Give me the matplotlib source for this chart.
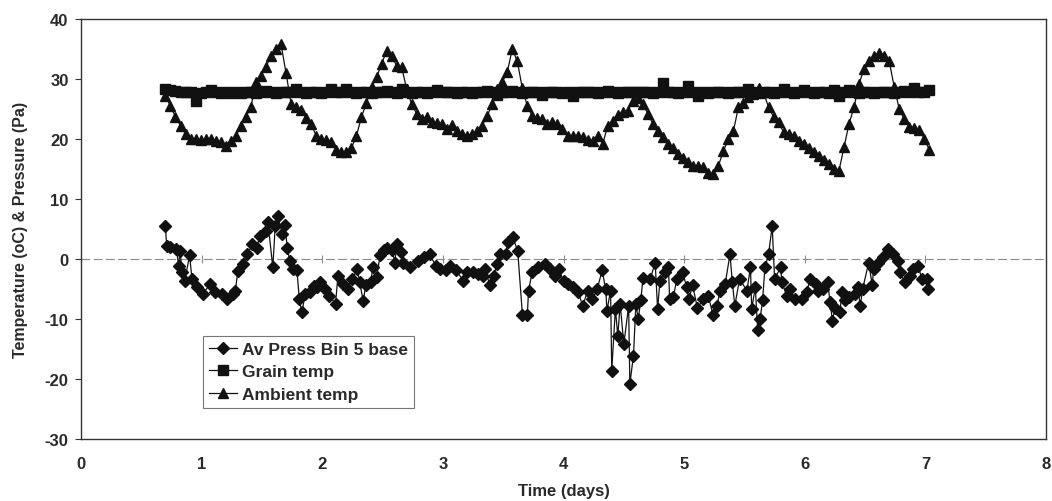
import numpy as np
import matplotlib.pyplot as plt

plt.rcParams['font.family'] = ['Liberation Sans', 'DejaVu Sans']
plt.rcParams['axes.unicode_minus'] = False

# Hourly temperature readings, starting at day 0.70
t0 = 0.70
hours = 153

grain_temp = [
    28.3, 28.2, 28.0, 27.8, 27.9, 27.8, 26.3, 27.7, 27.8, 28.2, 27.8, 27.6,
    27.8, 27.7, 27.8, 27.6, 27.8, 27.8, 27.7, 27.9, 28.0, 27.8, 27.6, 27.8,
    27.9, 27.8, 28.4, 27.8, 27.7, 27.8, 27.8, 27.6, 27.8, 28.3, 27.8, 27.8,
    28.3, 27.8, 27.7, 27.8, 27.8, 27.6, 27.8, 27.8, 28.0, 27.8, 27.7, 28.4,
    27.8, 27.7, 27.8, 27.8, 27.7, 27.8, 28.1, 27.8, 27.8, 27.9, 27.7, 27.8,
    27.8, 27.7, 27.8, 27.8, 28.0, 27.8, 27.3, 27.8, 27.8, 28.0, 27.8, 27.7,
    27.8, 27.8, 27.9, 27.3, 27.8, 27.8, 27.9, 27.7, 27.8, 27.2, 27.8, 27.8,
    27.9, 27.8, 27.7, 27.8, 28.0, 27.8, 27.7, 27.8, 27.8, 27.9, 27.8, 27.8,
    27.8, 27.7, 27.8, 29.3, 27.8, 27.8, 27.7, 27.8, 28.8, 27.8, 27.2, 27.8,
    27.7, 27.8, 27.8, 27.9, 27.7, 27.8, 27.8, 27.9, 28.3, 27.8, 27.7, 27.8,
    27.8, 27.7, 27.8, 28.3, 27.8, 27.7, 27.8, 28.2, 27.8, 27.7, 27.8, 27.8,
    27.7, 28.2, 27.2, 27.8, 28.2, 27.8, 27.7, 27.8, 27.8, 27.7, 27.9, 27.8,
    27.8, 27.7, 27.8, 28.0, 27.8, 28.5, 27.8, 27.9, 28.2,
]

ambient_temp = [
    27.2, 25.5, 23.7, 22.2, 20.8, 20.0, 20.0, 19.8, 20.0, 20.0, 19.6, 19.5,
    18.9, 19.6, 20.5, 22.2, 23.7, 25.3, 29.5, 30.5, 32.0, 33.9, 35.0, 35.8,
    31.0, 25.8, 25.3, 24.8, 23.5, 22.5, 20.5, 20.0, 19.8, 19.5, 18.2, 17.8,
    17.9, 18.5, 20.5, 23.7, 26.0, 28.7, 30.3, 32.5, 34.7, 33.9, 32.2, 32.0,
    28.3, 25.8, 24.2, 23.3, 23.7, 22.8, 22.7, 22.5, 21.7, 22.3, 21.3, 20.8,
    20.5, 20.8, 21.3, 22.2, 23.8, 25.8, 28.3, 29.5, 31.1, 35.0, 33.0, 28.5,
    25.5, 23.8, 23.5, 23.3, 22.5, 22.8, 22.5, 21.7, 20.5, 20.5, 20.5, 20.3,
    19.8, 19.7, 20.5, 19.2, 22.2, 23.0, 24.0, 24.5, 24.7, 26.3, 26.8, 25.8,
    24.2, 22.5, 21.3, 20.3, 19.2, 18.5, 17.5, 16.8, 16.1, 15.5, 15.5, 15.3,
    14.4, 14.2, 15.5, 18.0, 20.0, 21.3, 25.3, 26.0, 27.0, 27.5, 28.5, 27.8,
    25.3, 23.7, 22.8, 21.1, 20.8, 20.5, 19.7, 19.2, 18.5, 17.8, 17.2, 16.5,
    15.8, 15.0, 14.7, 18.6, 22.5, 25.3, 29.2, 31.7, 33.0, 33.9, 34.4, 33.9,
    33.0, 28.7, 25.0, 23.3, 22.0, 21.8, 21.5, 20.0, 18.2,
]

# Pressure logger: time (days) and average pressure (Pa)
press_t = [
    0.70, 0.71, 0.74, 0.79, 0.81, 0.82, 0.84, 0.86, 0.90, 0.92, 0.96, 1.01,
    1.07, 1.11, 1.17, 1.21, 1.26, 1.28, 1.30, 1.34, 1.38, 1.42, 1.46, 1.48,
    1.53, 1.55, 1.59, 1.61, 1.63, 1.67, 1.69, 1.71, 1.73, 1.76, 1.79, 1.81,
    1.83, 1.86, 1.90, 1.93, 1.96, 1.98, 2.02, 2.06, 2.11, 2.13, 2.17, 2.21,
    2.25, 2.29, 2.31, 2.34, 2.36, 2.40, 2.42, 2.45, 2.48, 2.51, 2.54, 2.58,
    2.60, 2.62, 2.65, 2.67, 2.73, 2.79, 2.84, 2.89, 2.94, 2.98, 3.03, 3.06,
    3.11, 3.17, 3.20, 3.25, 3.29, 3.33, 3.35, 3.39, 3.42, 3.45, 3.47, 3.52,
    3.54, 3.58, 3.62, 3.66, 3.70, 3.71, 3.74, 3.79, 3.85, 3.89, 3.93, 3.96,
    4.00, 4.04, 4.08, 4.12, 4.16, 4.20, 4.24, 4.28, 4.32, 4.35, 4.36, 4.39,
    4.40, 4.43, 4.45, 4.47, 4.50, 4.54, 4.55, 4.58, 4.60, 4.62, 4.64, 4.66,
    4.72, 4.76, 4.78, 4.80, 4.84, 4.87, 4.88, 4.91, 4.94, 4.99, 5.02, 5.04,
    5.07, 5.11, 5.16, 5.20, 5.24, 5.27, 5.30, 5.34, 5.38, 5.40, 5.42, 5.46,
    5.52, 5.55, 5.56, 5.59, 5.61, 5.63, 5.65, 5.67, 5.70, 5.73, 5.75, 5.80,
    5.81, 5.85, 5.88, 5.92, 5.98, 6.02, 6.04, 6.09, 6.11, 6.15, 6.19, 6.21,
    6.23, 6.25, 6.29, 6.31, 6.33, 6.37, 6.42, 6.44, 6.46, 6.48, 6.53, 6.56,
    6.57, 6.61, 6.65, 6.69, 6.73, 6.77, 6.79, 6.83, 6.87, 6.90, 6.94, 6.97,
    7.01, 7.02,
]
press = [
    5.5, 2.2, 2.0, 1.7, -1.2, 1.4, -2.2, -3.6, 0.6, -3.3, -4.7, -5.8,
    -4.2, -5.5, -5.8, -6.7, -5.8, -5.3, -2.0, -0.8, 0.8, 2.5, 1.9, 3.9,
    4.7, 6.1, -1.4, 5.5, 7.2, 4.2, 5.6, 1.9, -0.3, -1.7, -1.9, -6.7,
    -8.9, -5.8, -5.5, -4.5, -4.7, -3.9, -5.0, -6.1, -7.5, -2.8, -4.2, -5.0,
    -3.3, -1.7, -3.9, -7.0, -4.4, -3.9, -1.4, -3.0, 0.6, 1.5, 1.9, 1.5,
    -0.6, 2.5, 1.2, -0.6, -1.4, -0.3, 0.3, 0.8, -1.1, -1.7, -1.9, -1.1,
    -1.9, -3.6, -2.2, -2.2, -2.5, -2.8, -1.7, -4.4, -2.8, -0.8, 0.8, 0.8,
    2.8, 3.6, 1.4, -9.4, -9.4, -5.3, -2.2, -1.4, -0.8, -1.7, -2.8, -1.7,
    -3.6, -4.2, -4.7, -5.5, -7.8, -5.3, -6.7, -5.0, -1.9, -5.0, -8.6, -5.3,
    -18.6, -8.3, -12.8, -7.5, -14.2, -7.8, -20.8, -16.1, -7.5, -10.0, -6.9, -3.1,
    -3.3, -0.6, -8.3, -3.6, -2.2, -1.4, -6.7, -6.4, -3.3, -2.2, -4.7, -6.7,
    -4.4, -8.1, -6.7, -6.1, -9.4, -7.8, -5.3, -4.2, 0.8, -3.9, -7.8, -3.3,
    -5.3, -1.4, -8.3, -4.7, -11.9, -10.0, -6.9, -1.4, 0.8, 5.5, -3.3, -1.4,
    -3.9, -6.1, -5.0, -6.7, -6.7, -5.5, -3.3, -4.2, -5.3, -5.0, -3.9, -7.2,
    -10.3, -8.1, -8.9, -5.5, -6.9, -6.4, -5.8, -4.7, -7.8, -5.0, -0.6, -4.4,
    -1.7, -0.6, 0.3, 1.7, 0.8, -0.3, -2.2, -3.9, -2.8, -1.7, -1.1, -3.3,
    -3.3, -5.0,
]

t = t0 + np.arange(hours) / 24.0

fig = plt.figure(figsize=(10.52, 5.02), dpi=100)
ax = fig.add_axes([0.077, 0.1235, 0.9173, 0.8365])

ink = '#111111'
text_col = '#2a2a2a'
ax.plot(press_t, press, color=ink, lw=0.9, marker='D', ms=6.5,
        label='Av Press Bin 5 base')
ax.plot(t, grain_temp, color=ink, lw=0.9, marker='s', ms=7,
        label='Grain temp')
ax.plot(t, ambient_temp, color=ink, lw=0.9, marker='^', ms=7.5,
        label='Ambient temp')

ax.set_xlim(0, 8)
ax.set_ylim(-30, 40)
ax.set_xticks(range(0, 9))
ax.set_yticks(range(-30, 41, 10))

# category axis crossing at zero
ax.axhline(0, color='#8a8a8a', lw=0.8, ls=(0, (8, 3)), zorder=0)
zero_axis = ax.secondary_xaxis(30 / 70)
zero_axis.set_xticks(range(0, 9))
zero_axis.tick_params(axis='x', which='both', top=True, bottom=True,
                      labeltop=False, labelbottom=False, length=3,
                      color='#8a8a8a', width=0.8)
for sp in zero_axis.spines.values():
    sp.set_visible(False)

for sp in ax.spines.values():
    sp.set_color('#333333')
    sp.set_linewidth(1.0)

ax.tick_params(axis='y', direction='out', length=4, width=0.8,
               color='#333333', pad=5, labelsize=12, labelcolor=text_col)
ax.tick_params(axis='x', length=0, pad=12, labelsize=12, labelcolor=text_col)
for lab in ax.get_xticklabels() + ax.get_yticklabels():
    lab.set_fontweight('bold')

ax.set_ylabel('Temperature (oC) & Pressure (Pa)', fontsize=11.5,
              fontweight='bold', color=text_col)
ax.yaxis.set_label_coords(-0.055, 0.5)
ax.set_xlabel('Time (days)', fontsize=12, fontweight='bold', color=text_col)
ax.xaxis.set_label_coords(0.5, -0.105)

leg = ax.legend(loc='lower left', bbox_to_anchor=(0.1264, 0.0738),
                borderaxespad=0, fancybox=False, edgecolor='#777777',
                prop={'size': 12.5, 'weight': 'bold'},
                handlelength=1.6, handletextpad=0.3,
                labelspacing=0.42, borderpad=0.35, framealpha=1)
leg.get_frame().set_linewidth(0.8)
for txt in leg.get_texts():
    txt.set_color(text_col)

fig.savefig('out.png', dpi=100)
